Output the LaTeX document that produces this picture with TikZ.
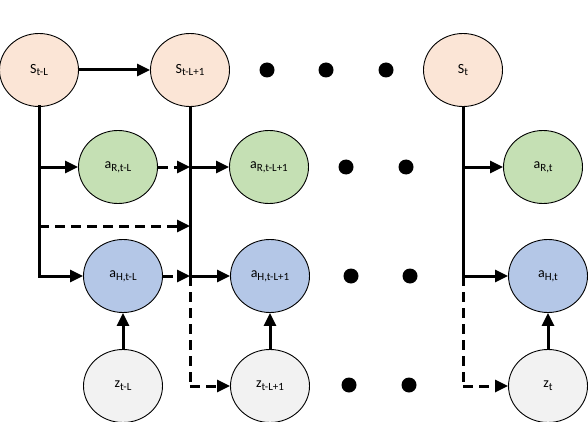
\documentclass[tikz,border=0pt]{standalone}
\usepackage{fontspec}
\setmainfont{Carlito}
\usetikzlibrary{arrows.meta,shapes.geometric}
\definecolor{cS}{HTML}{FBE5D6}
\definecolor{cR}{HTML}{C5E0B4}
\definecolor{cH}{HTML}{B4C7E7}
\definecolor{cZ}{HTML}{F2F2F2}
\newcommand{\lowsub}[1]{\raisebox{-0.4ex}{\fontsize{11}{12}\selectfont #1}}
\begin{document}
\begin{tikzpicture}[x=1pt,y=-1pt,
  st/.style={ellipse,draw=black,line width=0.9pt,minimum width=79pt,minimum height=73pt,inner sep=0pt,font=\fontsize{14}{16}\selectfont},
  conn/.style={line width=3pt,-{Triangle[length=13pt,width=12pt]}},
  solidline/.style={line width=3pt},
  dconn/.style={conn,dash pattern=on 10pt off 6pt},
  dline/.style={solidline,dash pattern=on 10pt off 6pt},
  dotn/.style={circle,fill=black,minimum size=15pt,inner sep=0pt}]
\useasboundingbox (0,0) rectangle (588,422);
% state nodes
\node[st,fill=cS] (s1) at (39,70) {S\lowsub{t-L}};
\node[st,fill=cS] (s2) at (190,70) {S\lowsub{t-L+1}};
\node[st,fill=cS] (s3) at (463,70) {S\lowsub{t}};
% robot actions
\node[st,fill=cR] (r1) at (118,167) {a\lowsub{R,t-L}};
\node[st,fill=cR] (r2) at (269,167) {a\lowsub{R,t-L+1}};
\node[st,fill=cR] (r3) at (543,167) {a\lowsub{R,t}};
% human actions
\node[st,fill=cH] (h1) at (123,276) {a\lowsub{H,t-L}};
\node[st,fill=cH] (h2) at (270,276) {a\lowsub{H,t-L+1}};
\node[st,fill=cH] (h3) at (548,276) {a\lowsub{H,t}};
% latent
\node[st,fill=cZ] (z1) at (123,386) {z\lowsub{t-L}};
\node[st,fill=cZ] (z2) at (270,386) {z\lowsub{t-L+1}};
\node[st,fill=cZ] (z3) at (548,386) {z\lowsub{t}};
% dots
\node[dotn] (d1) at (267,70) {};
\node[dotn] (d2) at (326,70) {};
\node[dotn] (d3) at (386,70) {};
\node[dotn] (d4) at (346,167) {};
\node[dotn] (d5) at (406,167) {};
\node[dotn] (d6) at (351,276) {};
\node[dotn] (d7) at (410,276) {};
\node[dotn] (d8) at (349,385) {};
\node[dotn] (d9) at (409,385) {};
% junction coordinates
\coordinate (a1) at (s1.south |- r1);
\coordinate (a2) at (s1.south |- 0,226);
\coordinate (a3) at (s1.south |- h1);
\coordinate (b1) at (s2.south |- r1);
\coordinate (b2) at (s2.south |- 0,226);
\coordinate (b3) at (s2.south |- h1);
\coordinate (b4) at (s2.south |- z2);
\coordinate (c1) at (s3.south |- r3);
\coordinate (c2) at (s3.south |- h3);
\coordinate (c3) at (s3.south |- z3);
% connectors
\draw[conn] (s1) -- (s2);
\draw[solidline,line cap=rect] (s1.south) -- (a3);
\draw[conn] (a1) -- (r1);
\draw[dconn] (a2) -- (b2);
\draw[conn] (a3) -- (h1);
\draw[dconn] (r1) -- (b1);
\draw[dconn] (h1) -- (b3);
\draw[solidline] (s2.south) -- (b3);
\draw[dline] (b3) -- (b4);
\draw[conn] (b1) -- (r2);
\draw[conn] (b3) -- (h2);
\draw[dconn] (b4) -- (z2);
\draw[solidline] (s3.south) -- (c2);
\draw[dline] (c2) -- (c3);
\draw[conn] (c1) -- (r3);
\draw[conn] (c2) -- (h3);
\draw[dconn] (c3) -- (z3);
\draw[conn] (z1) -- (h1);
\draw[conn] (z2) -- (h2);
\draw[conn] (z3) -- (h3);
\end{tikzpicture}
\end{document}
